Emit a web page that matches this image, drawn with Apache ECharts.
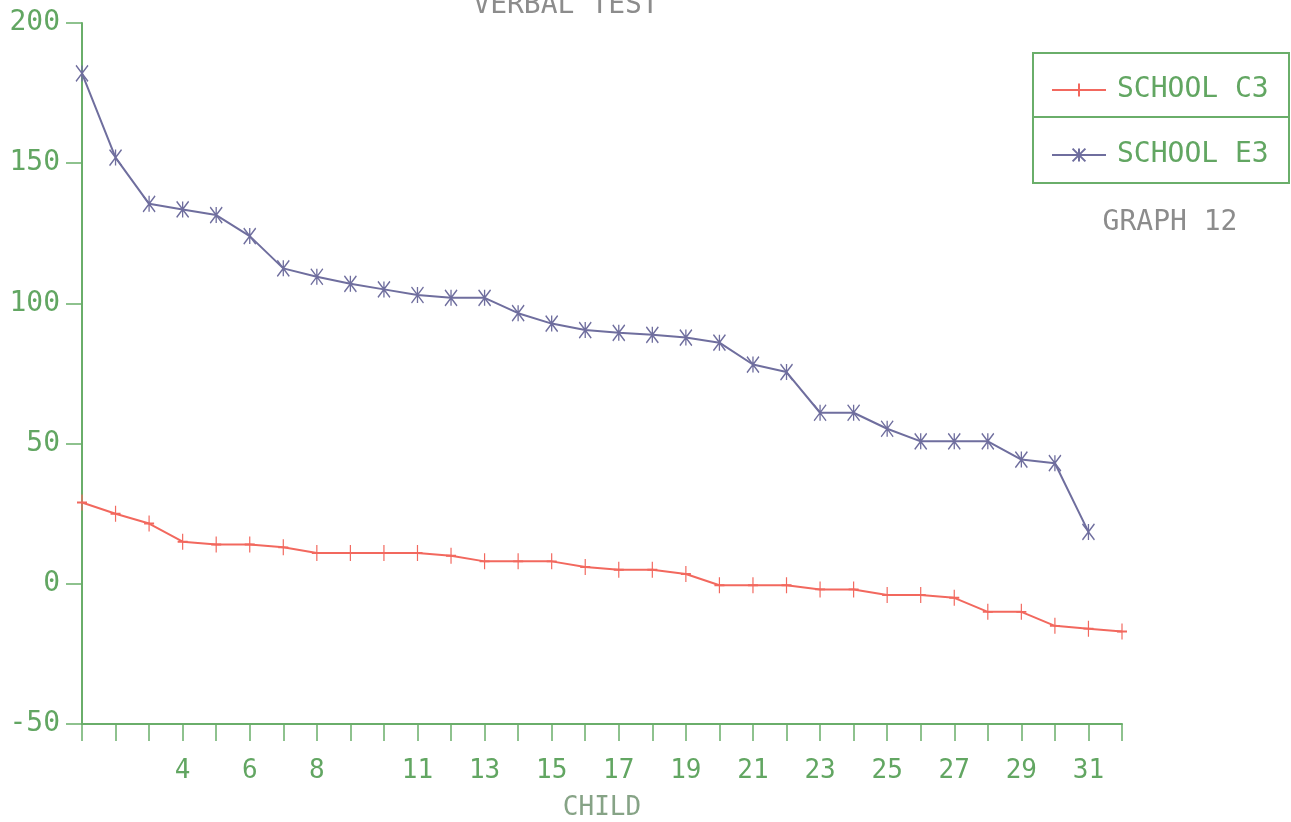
<!DOCTYPE html>
<html>
<head>
<meta charset="utf-8">
<script src="https://cdn.jsdelivr.net/npm/echarts@6/dist/echarts.min.js"></script>
<style>
html,body{margin:0;padding:0;background:#fff;overflow:hidden;}
#chart{width:1291px;height:822px;}
</style>
</head>
<body>
<div id="chart"></div>
<script>
// ---- data ----
const children = ['1','2','3','4','5','6','7','8','9','10','11','12','13','14','15','16','17','18','19','20','21','22','23','24','25','26','27','28','29','30','31','32'];
const xTickLabels = ['4','6','8','11','13','15','17','19','21','23','25','27','29','31'];
const schoolC3 = [29, 25, 21.5, 15, 14, 14, 13, 11, 11, 11, 11, 10, 8, 8, 8, 6, 5, 5, 3.5, -0.5, -0.5, -0.5, -2, -2, -4, -4, -5, -10, -10, -15, -16, -17];
const schoolE3 = [182, 152, 135.5, 133.5, 131.5, 124, 112.5, 109.5, 107, 105, 103, 102, 102, 96.5, 92.8, 90.5, 89.5, 88.8, 87.8, 86, 78.2, 75.5, 61, 61, 55.3, 50.8, 50.8, 50.8, 44.3, 43, 18.5];
const yMin = -50, yMax = 200, yStep = 50;
const seriesNames = ['SCHOOL C3', 'SCHOOL E3'];
const titleText = 'VERBAL TEST';
const noteText = 'GRAPH 12';
const xName = 'CHILD';

const green = '#6aae6a';
const labelGreen = '#62a662';
const red = '#f2685e';
const purple = '#6f6e9e';
const font = 'DejaVu Sans Mono';

const chart = echarts.init(document.getElementById('chart'), null, {renderer: 'canvas'});
chart.setOption({
  backgroundColor: '#ffffff',
  animation: false,
  grid: {left: 82, right: 169, top: 23, bottom: 98, containLabel: false, outerBoundsMode: 'none'},
  xAxis: {
    type: 'category',
    data: children,
    boundaryGap: false,
    name: xName,
    nameLocation: 'middle',
    nameGap: 71,
    nameTextStyle: {color: '#86a386', fontFamily: font, fontSize: 26},
    axisLine: {show: true, onZero: false, lineStyle: {color: green, width: 2}},
    axisTick: {show: true, inside: false, length: 17, interval: 0, alignWithLabel: true, lineStyle: {color: green, width: 1.5}},
    axisLabel: {
      interval: 0, margin: 34, color: labelGreen, fontFamily: font, fontSize: 26,
      formatter: v => xTickLabels.indexOf(v) >= 0 ? v : ''
    },
    splitLine: {show: false}
  },
  yAxis: {
    type: 'value',
    min: yMin, max: yMax, interval: yStep,
    axisLine: {show: true, onZero: false, lineStyle: {color: green, width: 2}},
    axisTick: {show: true, inside: false, length: 16, lineStyle: {color: green, width: 1.5}},
    axisLabel: {margin: 22, color: labelGreen, fontFamily: font, fontSize: 28},
    splitLine: {show: false}
  },
  legend: {
    orient: 'vertical',
    left: 1046, top: 70,
    itemWidth: 54, itemHeight: 16,
    itemGap: 35,
    textStyle: {color: labelGreen, fontFamily: font, fontSize: 28, lineHeight: 30, padding: [0, 0, 0, 6]},
    data: seriesNames
  },
  graphic: [
    {type: 'rect', shape: {x: 1033, y: 53, width: 256, height: 130}, style: {fill: 'none', stroke: green, lineWidth: 2}, z: 1},
    {type: 'line', shape: {x1: 1033, y1: 117, x2: 1289, y2: 117}, style: {stroke: green, lineWidth: 2}, z: 1},
    {type: 'text', x: 1170, y: 223, style: {text: noteText, fill: '#8c8c8c', font: '28px "' + font + '"', textAlign: 'center', textVerticalAlign: 'middle'}},
    {type: 'text', x: 566, y: 6, style: {text: titleText, fill: '#8c8c8c', font: '28px "' + font + '"', textAlign: 'center', textVerticalAlign: 'middle'}}
  ],
  series: [
    {
      name: seriesNames[0], type: 'line', data: schoolC3,
      symbol: 'path://M0,8L10,8M5,0L5,16', symbolSize: [10, 16],
      lineStyle: {color: red, width: 2},
      itemStyle: {color: red, borderColor: red, borderWidth: 1.5},
      z: 3
    },
    {
      name: seriesNames[1], type: 'line', data: schoolE3,
      symbol: 'path://M0,0L12,16M12,0L0,16M6,0L6,16', symbolSize: [12, 16],
      lineStyle: {color: purple, width: 2},
      itemStyle: {color: purple, borderColor: purple, borderWidth: 1.5},
      z: 3
    }
  ]
});
</script>
</body>
</html>
